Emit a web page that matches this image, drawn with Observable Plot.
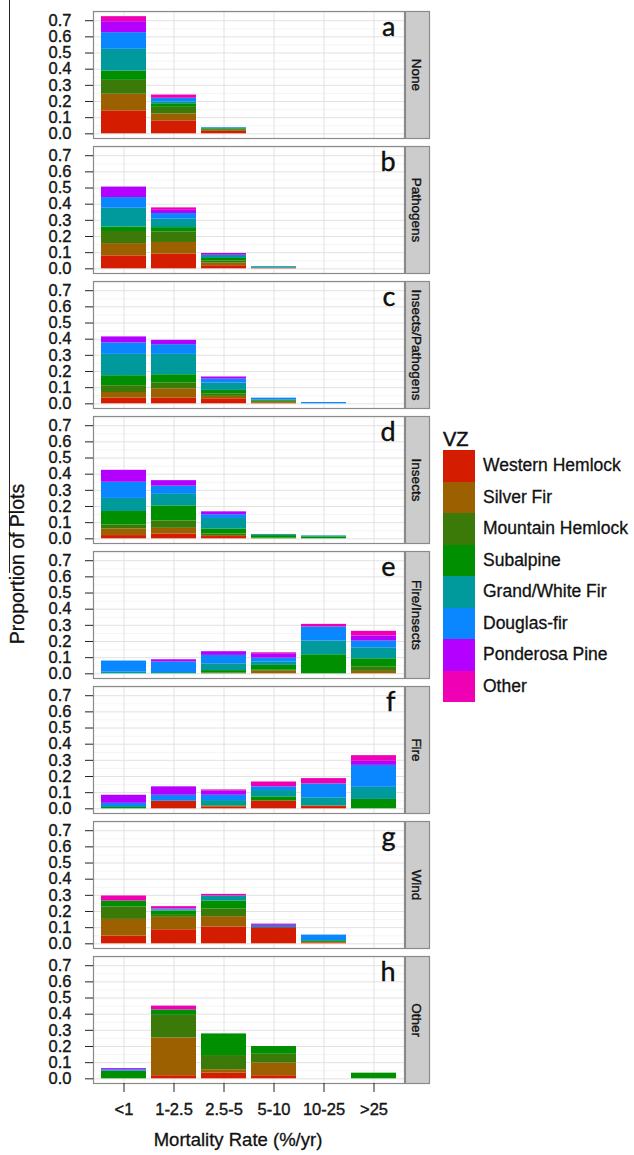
<!DOCTYPE html>
<html>
<head>
<meta charset="utf-8">
<script src="https://cdn.jsdelivr.net/npm/d3@7"></script>
<script src="https://cdn.jsdelivr.net/npm/@observablehq/plot@0.6"></script>
<style>
  body { margin: 0; background: #fff; font-family: "Liberation Sans", Arial, sans-serif; }
  #wrap { position: relative; width: 634px; height: 1155px; overflow: hidden; background: #fff; }
  #chart { position: absolute; left: 0; top: 0; }
  #chart svg text { stroke: currentColor; stroke-width: 0.35px; }
  .frameline { position: absolute; left: 9px; top: 0; width: 1px; height: 573px; background: #222; }
  .ytitle { position: absolute; left: 17px; top: 564px; transform: translate(-50%, -50%) rotate(-90deg);
            font-size: 19.5px; white-space: nowrap; color: #111; -webkit-text-stroke: 0.3px #111; }
  .xtitle { position: absolute; left: 238px; top: 1140px; transform: translate(-50%, -50%);
            font-size: 18.5px; white-space: nowrap; color: #111; -webkit-text-stroke: 0.3px #111; }
  #legend { position: absolute; left: 443px; top: 428px; }
  #legend .title { font-size: 20px; height: 22px; line-height: 22px; color: #111; -webkit-text-stroke: 0.5px #111; }
  #legend .row { display: flex; align-items: center; height: 31.5px; }
  #legend .sw { width: 32px; height: 31.5px; }
  #legend .lab { margin-left: 8px; font-size: 17.5px; color: #111; white-space: nowrap; -webkit-text-stroke: 0.3px #111; }
</style>
</head>
<body>
<div id="wrap">
  <div id="chart"></div>
  <div class="frameline"></div>
  <div class="ytitle">Proportion of Plots</div>
  <div class="xtitle">Mortality Rate (%/yr)</div>
  <div id="legend"></div>
</div>
<script>
// Categories
const rates = ["<1", "1-2.5", "2.5-5", "5-10", "10-25", ">25"];
const causes = ["None", "Pathogens", "Insects/Pathogens", "Insects", "Fire/Insects", "Fire", "Wind", "Other"];
const panelLetters = ["a", "b", "c", "d", "e", "f", "g", "h"];
const species = ["Western Hemlock", "Silver Fir", "Mountain Hemlock", "Subalpine", "Grand/White Fir", "Douglas-fir", "Ponderosa Pine", "Other"];
const colors = ["#d41c00", "#9c6000", "#3b7a08", "#008f00", "#009a9c", "#0a86ff", "#b400ff", "#f000b4"];
const yTicks = [0, 0.1, 0.2, 0.3, 0.4, 0.5, 0.6, 0.7];
const yMinorTicks = [0.05, 0.15, 0.25, 0.35, 0.45, 0.55, 0.65, 0.75];

// Values: rows = mortality class (rates), columns = species (in order above)
const vNone = [
  [0.142, 0.103, 0.086, 0.058, 0.134, 0.103, 0.068, 0.031],
  [0.080, 0.043, 0.041, 0.022, 0.010, 0.024, 0.000, 0.020],
  [0.015, 0.006, 0.005, 0.005, 0.005, 0.003, 0.000, 0.000],
  [0, 0, 0, 0, 0, 0, 0, 0],
  [0, 0, 0, 0, 0, 0, 0, 0],
  [0, 0, 0, 0, 0, 0, 0, 0]
];
const vPathogens = [
  [0.080, 0.076, 0.075, 0.028, 0.116, 0.066, 0.065, 0.000],
  [0.091, 0.072, 0.066, 0.026, 0.052, 0.035, 0.020, 0.015],
  [0.019, 0.016, 0.014, 0.015, 0.020, 0.000, 0.011, 0.000],
  [0.004, 0.000, 0.000, 0.000, 0.009, 0.000, 0.000, 0.000],
  [0, 0, 0, 0, 0, 0, 0, 0],
  [0, 0, 0, 0, 0, 0, 0, 0]
];
const vInsPath = [
  [0.035, 0.035, 0.042, 0.062, 0.132, 0.071, 0.037, 0.000],
  [0.035, 0.058, 0.035, 0.052, 0.126, 0.060, 0.027, 0.000],
  [0.031, 0.015, 0.016, 0.021, 0.045, 0.025, 0.013, 0.000],
  [0.003, 0.006, 0.007, 0.007, 0.000, 0.012, 0.000, 0.000],
  [0.000, 0.000, 0.000, 0.000, 0.000, 0.008, 0.000, 0.000],
  [0, 0, 0, 0, 0, 0, 0, 0]
];
const vInsects = [
  [0.020, 0.041, 0.025, 0.083, 0.081, 0.100, 0.074, 0.000],
  [0.029, 0.036, 0.045, 0.094, 0.071, 0.051, 0.034, 0.000],
  [0.014, 0.006, 0.010, 0.031, 0.065, 0.023, 0.018, 0.000],
  [0.000, 0.000, 0.004, 0.016, 0.006, 0.000, 0.000, 0.000],
  [0.000, 0.000, 0.000, 0.012, 0.006, 0.000, 0.000, 0.000],
  [0, 0, 0, 0, 0, 0, 0, 0]
];
const vFireIns = [
  [0.000, 0.000, 0.000, 0.000, 0.010, 0.069, 0.000, 0.000],
  [0.000, 0.000, 0.000, 0.000, 0.008, 0.065, 0.014, 0.000],
  [0.000, 0.000, 0.006, 0.014, 0.042, 0.052, 0.023, 0.000],
  [0.000, 0.016, 0.006, 0.030, 0.020, 0.025, 0.027, 0.006],
  [0.000, 0.000, 0.000, 0.118, 0.085, 0.087, 0.000, 0.016],
  [0.000, 0.015, 0.026, 0.052, 0.068, 0.042, 0.031, 0.029]
];
const vFire = [
  [0.000, 0.000, 0.000, 0.008, 0.006, 0.020, 0.050, 0.000],
  [0.047, 0.000, 0.000, 0.000, 0.000, 0.037, 0.052, 0.000],
  [0.012, 0.004, 0.000, 0.004, 0.031, 0.033, 0.025, 0.008],
  [0.047, 0.000, 0.004, 0.023, 0.039, 0.023, 0.000, 0.030],
  [0.014, 0.004, 0.000, 0.000, 0.050, 0.086, 0.000, 0.033],
  [0.000, 0.000, 0.000, 0.058, 0.075, 0.136, 0.025, 0.035]
];
const vWind = [
  [0.048, 0.103, 0.077, 0.037, 0.000, 0.000, 0.000, 0.031],
  [0.087, 0.077, 0.012, 0.027, 0.005, 0.007, 0.000, 0.015],
  [0.104, 0.064, 0.047, 0.050, 0.031, 0.000, 0.000, 0.010],
  [0.100, 0.000, 0.000, 0.000, 0.000, 0.014, 0.000, 0.008],
  [0.006, 0.003, 0.000, 0.010, 0.000, 0.035, 0.000, 0.000],
  [0, 0, 0, 0, 0, 0, 0, 0]
];
const vOther = [
  [0.000, 0.000, 0.000, 0.048, 0.000, 0.008, 0.007, 0.000],
  [0.019, 0.234, 0.140, 0.033, 0.000, 0.000, 0.000, 0.024],
  [0.035, 0.021, 0.088, 0.134, 0.000, 0.000, 0.000, 0.000],
  [0.019, 0.078, 0.055, 0.048, 0.000, 0.000, 0.000, 0.000],
  [0, 0, 0, 0, 0, 0, 0, 0],
  [0.000, 0.000, 0.000, 0.035, 0.000, 0.000, 0.000, 0.000]
];
const matrices = [vNone, vPathogens, vInsPath, vInsects, vFireIns, vFire, vWind, vOther];

// Long table for Plot
const rows = [];
matrices.forEach((m, ci) => {
  m.forEach((vals, ri) => {
    vals.forEach((v, si) => {
      if (v > 0) rows.push({cause: causes[ci], rate: rates[ri], species: species[si], value: v});
    });
  });
});
const letterRows = panelLetters.map((l, i) => ({cause: causes[i], letter: l}));

const W = 440, mL = 93, mR = 36;
const panelW = W - mL - mR;

const chart = Plot.plot({
  width: W,
  height: 1155,
  marginLeft: mL,
  marginRight: mR,
  marginTop: 9,
  marginBottom: 70,
  style: {fontFamily: "'Liberation Sans', Arial, sans-serif", fontSize: "16.5px", background: "transparent", overflow: "visible"},
  x: {domain: rates, padding: 0.1, label: null},
  y: {domain: [-0.029, 0.757], label: null},
  fy: {domain: causes, paddingInner: 8 / 135.5, paddingOuter: 0, axis: null, label: null},
  color: {domain: species, range: colors},
  marks: [
    Plot.gridY({ticks: yMinorTicks.filter(t => t < 0.757), stroke: "#f1f1f1", strokeOpacity: 1, strokeWidth: 0.8}),
    Plot.gridY({ticks: yTicks, stroke: "#e2e2e2", strokeOpacity: 1, strokeWidth: 1}),
    Plot.gridX({stroke: "#e2e2e2", strokeOpacity: 1, strokeWidth: 1}),
    Plot.barY(rows, {x: "rate", y: "value", fill: "species", fy: "cause", order: species}),
    Plot.frame({stroke: "#8a8a8a", strokeWidth: 1.2}),
    Plot.frame({fill: "#cccccc", stroke: "#8a8a8a", strokeWidth: 1.2, insetLeft: panelW + 1, insetRight: -25}),
    Plot.text(causes, {fy: d => d, text: d => d, frameAnchor: "right", rotate: 90, dx: 12,
      textAnchor: "middle", lineAnchor: "middle", fontSize: 13.5, fill: "#1a1a1a"}),
    Plot.text(letterRows, {fy: "cause", text: "letter", frameAnchor: "top-right", dx: -9, dy: 5,
      textAnchor: "end", fontSize: 27, fontFamily: "Lato, 'Open Sans', sans-serif", fill: "#111"}),
    Plot.axisY({ticks: yTicks, tickFormat: d3.format(".1f"), tickSize: 8, tickPadding: 14,
      fontSize: 16.5, color: "#222", label: null}),
    Plot.axisX({tickSize: 9, tickPadding: 11, fontSize: 16.5, color: "#222", label: null})
  ]
});
document.getElementById("chart").appendChild(chart);

// Legend
const legend = d3.select("#legend");
legend.append("div").attr("class", "title").text("VZ");
species.forEach((s, i) => {
  const row = legend.append("div").attr("class", "row");
  row.append("div").attr("class", "sw").style("background", colors[i]);
  row.append("div").attr("class", "lab").text(s);
});
</script>
</body>
</html>
